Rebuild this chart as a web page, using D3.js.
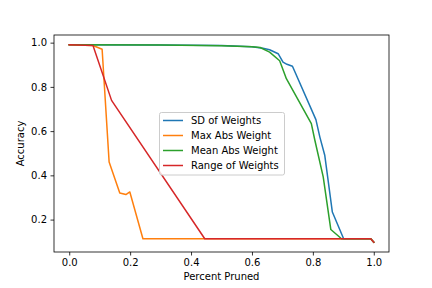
<!DOCTYPE html>
<html>
<head>
<meta charset="utf-8">
<script src="https://cdn.jsdelivr.net/npm/d3@7"></script>
<style>
  body { margin: 0; background: #fff; }
  svg { display: block; font-family: "DejaVu Sans", sans-serif; }
</style>
</head>
<body>
<svg id="chart" width="432" height="288"></svg>
<script>
// Data: [percent pruned, accuracy]
const sdWeights = [[0, 0.99], [0.3, 0.989], [0.5, 0.987], [0.6, 0.982], [0.636, 0.975], [0.658, 0.968],
    [0.686, 0.95], [0.702, 0.912], [0.715, 0.902], [0.733, 0.893], [0.81, 0.652], [0.823, 0.573],
    [0.839, 0.491], [0.864, 0.234], [0.901, 0.1135], [0.99, 0.1135], [1.0, 0.098]];
const maxAbsWeight = [[0, 0.99], [0.078, 0.987], [0.108, 0.97], [0.131, 0.46], [0.166, 0.32],
    [0.186, 0.313], [0.199, 0.325], [0.242, 0.1135], [0.99, 0.1135], [1.0, 0.098]];
const meanAbsWeight = [[0, 0.99], [0.3, 0.989], [0.5, 0.986], [0.6, 0.981], [0.627, 0.978],
    [0.658, 0.957], [0.691, 0.918], [0.713, 0.837], [0.795, 0.634], [0.806, 0.562], [0.834, 0.393],
    [0.859, 0.155], [0.894, 0.1135], [0.99, 0.1135], [1.0, 0.098]];
const rangeWeights = [[0, 0.99], [0.078, 0.987], [0.139, 0.739], [0.445, 0.1135], [0.99, 0.1135], [1.0, 0.098]];

const seriesNames = ["SD of Weights", "Max Abs Weight", "Mean Abs Weight", "Range of Weights"];
const seriesData = [sdWeights, maxAbsWeight, meanAbsWeight, rangeWeights];
const colors = ["#1f77b4", "#ff7f0e", "#2ca02c", "#d62728"];
const xTicks = [0, 0.2, 0.4, 0.6, 0.8, 1.0];
const yTicks = [0.2, 0.4, 0.6, 0.8, 1.0];

/**************************************************************************************************/
const svg = d3.select("#chart");
const plotLeft = 54, plotRight = 389, plotTop = 35, plotBottom = 252;

// matplotlib style 5% margins around the data
const xExt = d3.extent(seriesData.flat(), d => d[0]);
const yExt = d3.extent(seriesData.flat(), d => d[1]);
const xPad = (xExt[1] - xExt[0]) * 0.05, yPad = (yExt[1] - yExt[0]) * 0.05;

const x = d3.scaleLinear().domain([xExt[0] - xPad, xExt[1] + xPad]).range([plotLeft, plotRight]);
const y = d3.scaleLinear().domain([yExt[0] - yPad, yExt[1] + yPad]).range([plotBottom, plotTop]);

const xAxis = svg.append("g")
    .attr("transform", `translate(0,${plotBottom})`)
    .call(d3.axisBottom(x).tickValues(xTicks).tickFormat(d3.format(".1f")).tickSizeOuter(0).tickSize(3.5).tickPadding(3.5));
const yAxis = svg.append("g")
    .attr("transform", `translate(${plotLeft},0)`)
    .call(d3.axisLeft(y).tickValues(yTicks).tickFormat(d3.format(".1f")).tickSizeOuter(0).tickSize(3.5).tickPadding(3.5));

[xAxis, yAxis].forEach(a => {
    a.select(".domain").remove();
    a.selectAll("line").attr("stroke", "#000").attr("stroke-width", 0.8);
    a.selectAll("text").attr("font-size", 10).attr("font-family", "DejaVu Sans").attr("fill", "#000");
});

const line = d3.line().x(d => x(d[0])).y(d => y(d[1]));

svg.append("g")
    .selectAll("path")
    .data(seriesData)
    .join("path")
        .attr("d", line)
        .attr("fill", "none")
        .attr("stroke", (d, i) => colors[i])
        .attr("stroke-width", 1.5)
        .attr("stroke-linejoin", "round")
        .attr("stroke-linecap", "square");

// spines
svg.append("rect")
    .attr("x", plotLeft).attr("y", plotTop)
    .attr("width", plotRight - plotLeft).attr("height", plotBottom - plotTop)
    .attr("fill", "none").attr("stroke", "#000").attr("stroke-width", 0.8);

// axis labels
svg.append("text")
    .attr("x", (plotLeft + plotRight) / 2).attr("y", 280)
    .attr("text-anchor", "middle").attr("font-size", 10)
    .text("Percent Pruned");
svg.append("text")
    .attr("transform", `translate(23.5,${(plotTop + plotBottom) / 2}) rotate(-90)`)
    .attr("text-anchor", "middle").attr("font-size", 10)
    .text("Accuracy");

// legend
const legend = svg.append("g").attr("transform", "translate(159.5,112.5)");
legend.append("rect")
    .attr("width", 125).attr("height", 62.5).attr("rx", 2)
    .attr("fill", "#fff").attr("fill-opacity", 0.8)
    .attr("stroke", "#cccccc").attr("stroke-width", 1);
const items = legend.selectAll("g.item")
    .data(seriesNames)
    .join("g")
        .attr("class", "item")
        .attr("transform", (d, i) => `translate(0,${8 + i * 15})`);
items.append("line")
    .attr("x1", 3.5).attr("x2", 23.5)
    .attr("stroke", (d, i) => colors[i]).attr("stroke-width", 1.5);
items.append("text")
    .attr("x", 31.5).attr("dy", "0.35em")
    .attr("font-size", 10)
    .text(d => d);
</script>
</body>
</html>
